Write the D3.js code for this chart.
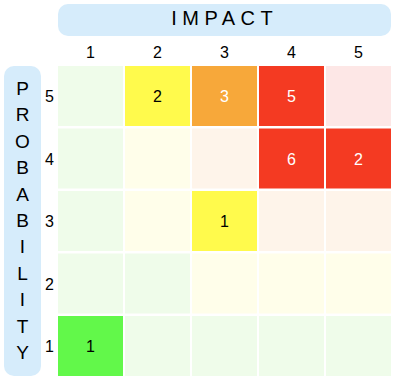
<!DOCTYPE html>
<html><head><meta charset="utf-8">
<script src="https://cdn.jsdelivr.net/npm/d3@7"></script>
<style>
html,body{margin:0;padding:0;background:#fff;}
svg{display:block;font-family:"Liberation Sans",Arial,sans-serif;}
</style></head>
<body><svg id="c" width="395" height="380"></svg>
<script>
const impactLevels = [1, 2, 3, 4, 5];
const probabilityLevels = [5, 4, 3, 2, 1];
const xTitle = "IMPACT";
const yTitle = "PROBABILITY";
// risk zone per cell (rows top->bottom: probability 5..1, cols impact 1..5)
const zones = [
  ["G","Y","O","R","R"],
  ["G","Y","O","R","R"],
  ["G","Y","Y","O","O"],
  ["G","G","Y","Y","Y"],
  ["G","G","G","G","G"]
];
const counts = [
  [0,2,3,5,0],
  [0,0,0,6,2],
  [0,0,1,0,0],
  [0,0,0,0,0],
  [1,0,0,0,0]
];
const zoneKeys = ["G","Y","O","R"];
const fullColors = ["#62f84a","#fffa4c","#f7a83a","#f43a22"];
const paleColors = ["#effcea","#fffeea","#fef4ea","#fde7e6"];
const textColors = ["#000","#000","#fff","#fff"];

const svg = d3.select("#c");
const x = d3.scaleBand().domain(impactLevels).range([58, 391]).paddingInner(0.03).paddingOuter(0);
const y = d3.scaleBand().domain(probabilityLevels).range([66, 376]).paddingInner(0.04).paddingOuter(0);
const full = d3.scaleOrdinal().domain(zoneKeys).range(fullColors);
const pale = d3.scaleOrdinal().domain(zoneKeys).range(paleColors);
const txt = d3.scaleOrdinal().domain(zoneKeys).range(textColors);

const cells = [];
probabilityLevels.forEach((p, i) => impactLevels.forEach((im, j) => {
  cells.push({p, im, zone: zones[i][j], n: counts[i][j]});
}));

// title boxes
svg.append("rect").attr("x", 58).attr("y", 4).attr("width", 333).attr("height", 32).attr("rx", 10).attr("fill", "#d6ecfb");
svg.append("text").attr("x", 222 + 2.75).attr("y", 24.5).attr("text-anchor", "middle")
  .attr("font-size", 20).attr("letter-spacing", "5.5px").attr("fill", "#000").text(xTitle);

svg.append("rect").attr("x", 4).attr("y", 66).attr("width", 37).attr("height", 310).attr("rx", 10).attr("fill", "#d6ecfb");
const ly = d3.scalePoint().domain(d3.range(yTitle.length)).range([88, 352]);
svg.append("g").selectAll("text").data(yTitle.split("")).join("text")
  .attr("x", 22.5).attr("y", (d, i) => ly(i) + 7).attr("text-anchor", "middle")
  .attr("font-size", 19).attr("fill", "#000").text(d => d);

// axis labels
svg.append("g").selectAll("text").data(impactLevels).join("text")
  .attr("x", d => x(d) + x.bandwidth() / 2).attr("y", 58).attr("text-anchor", "middle")
  .attr("font-size", 16).attr("fill", "#000").text(d => d);
svg.append("g").selectAll("text").data(probabilityLevels).join("text")
  .attr("x", 49.5).attr("y", d => y(d) + y.bandwidth() / 2 + 6).attr("text-anchor", "middle")
  .attr("font-size", 16).attr("fill", "#000").text(d => d);

// cells
const g = svg.append("g");
g.selectAll("rect").data(cells).join("rect")
  .attr("x", d => x(d.im)).attr("y", d => y(d.p))
  .attr("width", x.bandwidth()).attr("height", y.bandwidth())
  .attr("fill", d => d.n > 0 ? full(d.zone) : pale(d.zone));
g.selectAll("text").data(cells.filter(d => d.n > 0)).join("text")
  .attr("x", d => x(d.im) + x.bandwidth() / 2).attr("y", d => y(d.p) + y.bandwidth() / 2 + 6)
  .attr("text-anchor", "middle").attr("font-size", 16)
  .attr("fill", d => txt(d.zone)).text(d => d.n);
</script></body></html>
